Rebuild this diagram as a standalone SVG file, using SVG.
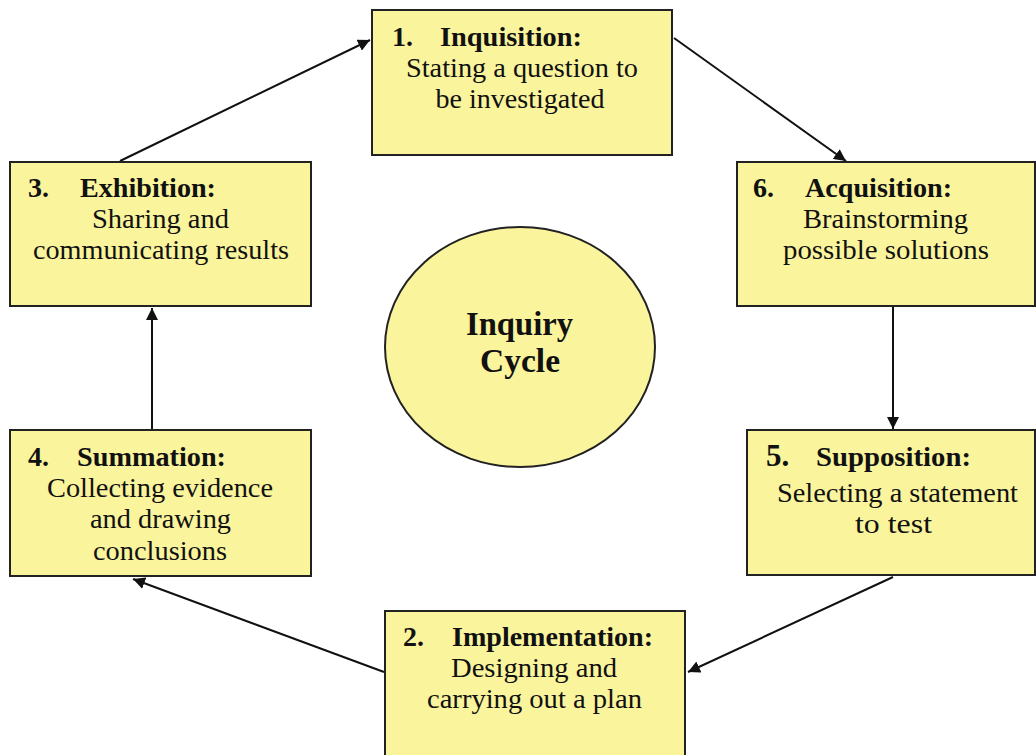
<svg xmlns="http://www.w3.org/2000/svg" width="1036" height="755" viewBox="0 0 1036 755">
<style>
.box{fill:#faf49c;stroke:#222;stroke-width:2}
.t{font-family:'Liberation Serif','Times New Roman',serif;font-size:27px;fill:#111}
.b{font-weight:bold;font-size:28px}
.c{text-anchor:middle}
.big{font-size:33px}
.ln{stroke:#111;stroke-width:2;fill:none;marker-end:url(#ah)}
</style>
<defs>
<marker id="ah" viewBox="0 0 10 10" refX="10" refY="5" markerWidth="6" markerHeight="6" markerUnits="strokeWidth" orient="auto">
<path d="M0,0 L10,5 L0,10 z" fill="#111"/>
</marker>
</defs>
<rect width="1036" height="755" fill="#fff"/>
<g id="connectors">
<line class="ln" x1="120" y1="161" x2="370" y2="40"/>
<line class="ln" x1="674" y1="38" x2="846" y2="161"/>
<line class="ln" x1="893" y1="307" x2="893" y2="429"/>
<line class="ln" x1="893" y1="577" x2="688" y2="672"/>
<line class="ln" x1="384" y1="672" x2="133" y2="579"/>
<line class="ln" x1="152" y1="429" x2="152" y2="308"/>
</g>
<g id="center">
<ellipse cx="520" cy="347" rx="135" ry="120" fill="#faf49c" stroke="#222" stroke-width="2"/>
<text class="t b c big" x="519.5" y="335" textLength="107" lengthAdjust="spacingAndGlyphs">Inquiry</text>
<text class="t b c big" x="520" y="372" textLength="80" lengthAdjust="spacingAndGlyphs">Cycle</text>
</g>
<g id="n1">
<rect class="box" x="372" y="10" width="300" height="145"/>
<text class="t b" x="392" y="46">1.</text><text class="t b" x="440" y="46" textLength="142" lengthAdjust="spacingAndGlyphs">Inquisition:</text>
<text class="t c" x="522" y="77" textLength="232" lengthAdjust="spacingAndGlyphs">Stating a question to</text>
<text class="t c" x="520" y="108" textLength="169" lengthAdjust="spacingAndGlyphs">be investigated</text>
</g>
<g id="n6">
<rect class="box" x="737" y="162" width="298" height="144"/>
<text class="t b" x="753" y="197">6.</text><text class="t b" x="805" y="197" textLength="147" lengthAdjust="spacingAndGlyphs">Acquisition:</text>
<text class="t c" x="885.5" y="228" textLength="165" lengthAdjust="spacingAndGlyphs">Brainstorming</text>
<text class="t c" x="886" y="259" textLength="206" lengthAdjust="spacingAndGlyphs">possible solutions</text>
</g>
<g id="n5">
<rect class="box" x="747" y="430" width="288" height="145"/>
<text class="t b" x="766" y="466" font-size="31" style="font-size:31px">5.</text><text class="t b" x="816" y="466" textLength="155" lengthAdjust="spacingAndGlyphs">Supposition:</text>
<text class="t c" x="897.5" y="502" textLength="241" lengthAdjust="spacingAndGlyphs">Selecting a statement</text>
<text class="t c" x="893.5" y="533" textLength="77" lengthAdjust="spacingAndGlyphs">to test</text>
</g>
<g id="n2">
<rect class="box" x="385" y="611" width="300" height="150"/>
<text class="t b" x="403" y="646">2.</text><text class="t b" x="452" y="646" textLength="201" lengthAdjust="spacingAndGlyphs">Implementation:</text>
<text class="t c" x="534" y="677" textLength="166" lengthAdjust="spacingAndGlyphs">Designing and</text>
<text class="t c" x="534.5" y="708" textLength="215" lengthAdjust="spacingAndGlyphs">carrying out a plan</text>
</g>
<g id="n4">
<rect class="box" x="10" y="430" width="301" height="146"/>
<text class="t b" x="28" y="466">4.</text><text class="t b" x="77" y="466" textLength="149" lengthAdjust="spacingAndGlyphs">Summation:</text>
<text class="t c" x="160" y="497" textLength="226" lengthAdjust="spacingAndGlyphs">Collecting evidence</text>
<text class="t c" x="160.5" y="528" textLength="141" lengthAdjust="spacingAndGlyphs">and drawing</text>
<text class="t c" x="160" y="560" textLength="134" lengthAdjust="spacingAndGlyphs">conclusions</text>
</g>
<g id="n3">
<rect class="box" x="10" y="162" width="301" height="144"/>
<text class="t b" x="28" y="197">3.</text><text class="t b" x="80" y="197" textLength="136" lengthAdjust="spacingAndGlyphs">Exhibition:</text>
<text class="t c" x="160.5" y="228" textLength="137" lengthAdjust="spacingAndGlyphs">Sharing and</text>
<text class="t c" x="161" y="259" textLength="256" lengthAdjust="spacingAndGlyphs">communicating results</text>
</g>
</svg>
